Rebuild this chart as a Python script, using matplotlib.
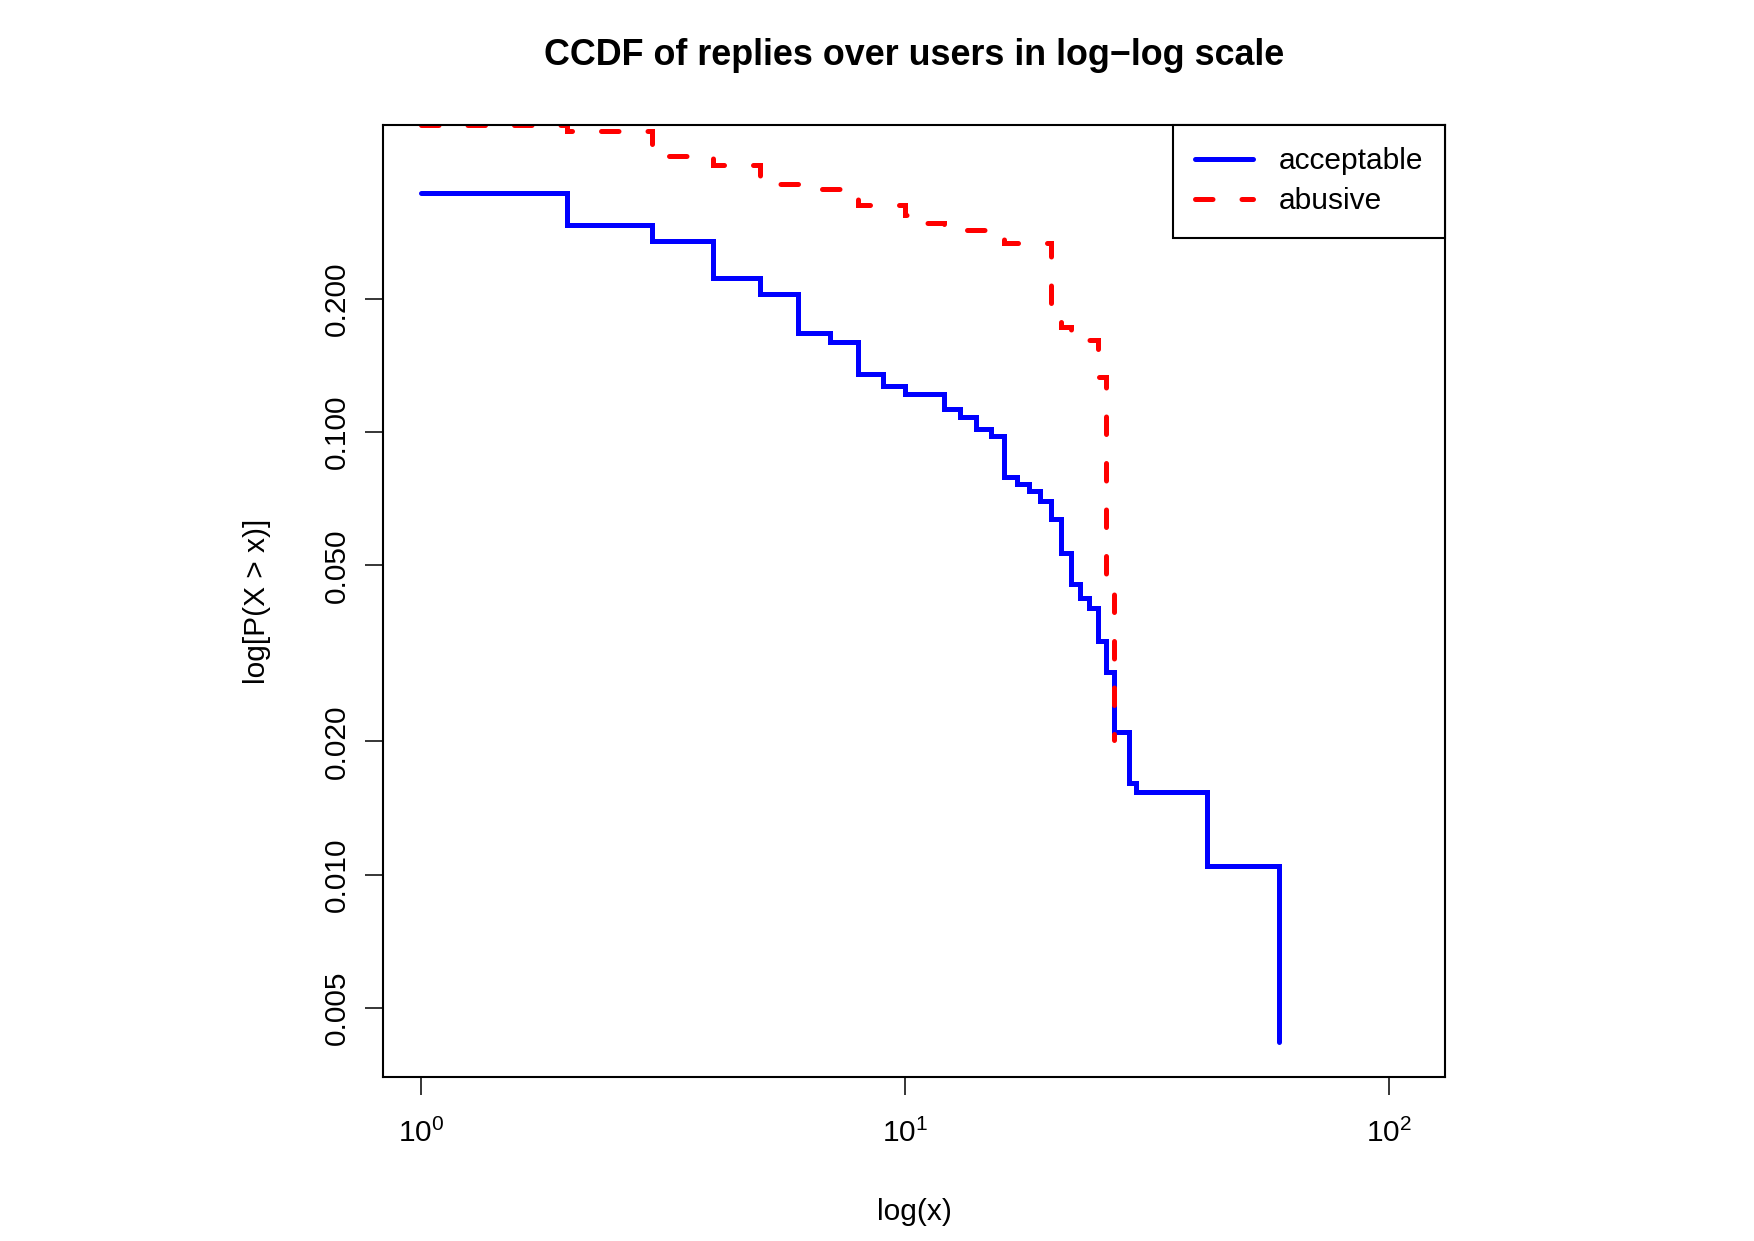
import matplotlib
matplotlib.use("Agg")
import matplotlib.pyplot as plt
from matplotlib.ticker import FixedLocator, NullLocator

plt.rcParams['font.family'] = ['Liberation Sans', 'DejaVu Sans']
plt.rcParams['mathtext.fontset'] = 'custom'
plt.rcParams['mathtext.rm'] = 'Liberation Sans'

# CCDF values (steps at integer reply counts)
acceptable_x = [1, 2, 3, 4, 5, 6, 7, 8, 9, 10, 12, 13, 14, 15, 16, 17, 18, 19, 20,
                21, 22, 23, 24, 25, 26, 27, 29, 30, 42, 59]
acceptable_p = [0.348, 0.294, 0.270, 0.223, 0.2055, 0.168, 0.1597, 0.1351, 0.1271,
                0.1222, 0.1130, 0.1082, 0.1018, 0.0978, 0.0792, 0.0765, 0.0736,
                0.0698, 0.0635, 0.0534, 0.0455, 0.0422, 0.0400, 0.0338, 0.0287,
                0.0210, 0.0161, 0.0154, 0.01047, 0.00419]

abusive_x = [1, 2, 3, 4, 5, 6, 8, 10, 11, 12, 15, 16, 20, 21, 22, 25, 26, 27]
abusive_p = [0.495, 0.479, 0.421, 0.401, 0.364, 0.354, 0.3256, 0.309, 0.297, 0.287,
             0.2786, 0.2676, 0.182, 0.173, 0.162, 0.133, 0.0468, 0.0201]

y_ticks = [0.005, 0.010, 0.020, 0.050, 0.100, 0.200]
y_tick_labels = ["0.005", "0.010", "0.020", "0.050", "0.100", "0.200"]
x_ticks = [1, 10, 100]

fs = 21.5

fig = plt.figure(figsize=(17.54, 12.41), dpi=100)
ax = fig.add_axes([0.2181, 0.1321, 0.8241 - 0.2181, 0.8993 - 0.1321])

ax.step(acceptable_x, acceptable_p, where='post', color='blue', lw=3.6,
        solid_capstyle='round', solid_joinstyle='miter', label='acceptable')
ax.step(abusive_x, abusive_p, where='post', color='red', lw=3.6,
        dashes=(3.5, 5.8), dash_capstyle='round', dash_joinstyle='miter',
        label='abusive')

ax.set_xscale('log')
ax.set_yscale('log')
ax.set_xlim(10 ** -0.0797, 10 ** 2.1157)
ax.set_ylim(10 ** -2.4575, 10 ** -0.3056)

ax.xaxis.set_major_locator(FixedLocator(x_ticks))
ax.xaxis.set_minor_locator(NullLocator())
ax.yaxis.set_major_locator(FixedLocator(y_ticks))
ax.yaxis.set_minor_locator(NullLocator())
ax.set_yticklabels(y_tick_labels, rotation=90, va='center')

ax.tick_params(axis='both', length=13, width=1.1, labelsize=fs, direction='out')
ax.tick_params(axis='x', pad=17)
ax.tick_params(axis='y', pad=10)

for sp in ax.spines.values():
    sp.set_linewidth(1.5)

ax.set_title("CCDF of replies over users in log\u2212log scale", fontsize=fs * 1.2,
             fontweight='bold', pad=43)
ax.set_xlabel("log(x)", fontsize=fs, labelpad=36)
ax.set_ylabel("log[P(X > x)]", fontsize=fs, labelpad=37)

leg = ax.legend(loc='upper right', fontsize=fs, frameon=True, fancybox=False,
                borderaxespad=0, borderpad=0.75, handlelength=1.95,
                handletextpad=0.85, labelspacing=0.4)
leg.get_frame().set_edgecolor('black')
leg.get_frame().set_linewidth(1.5)
leg.get_frame().set_alpha(1)

fig.savefig("out.png", dpi=100)
